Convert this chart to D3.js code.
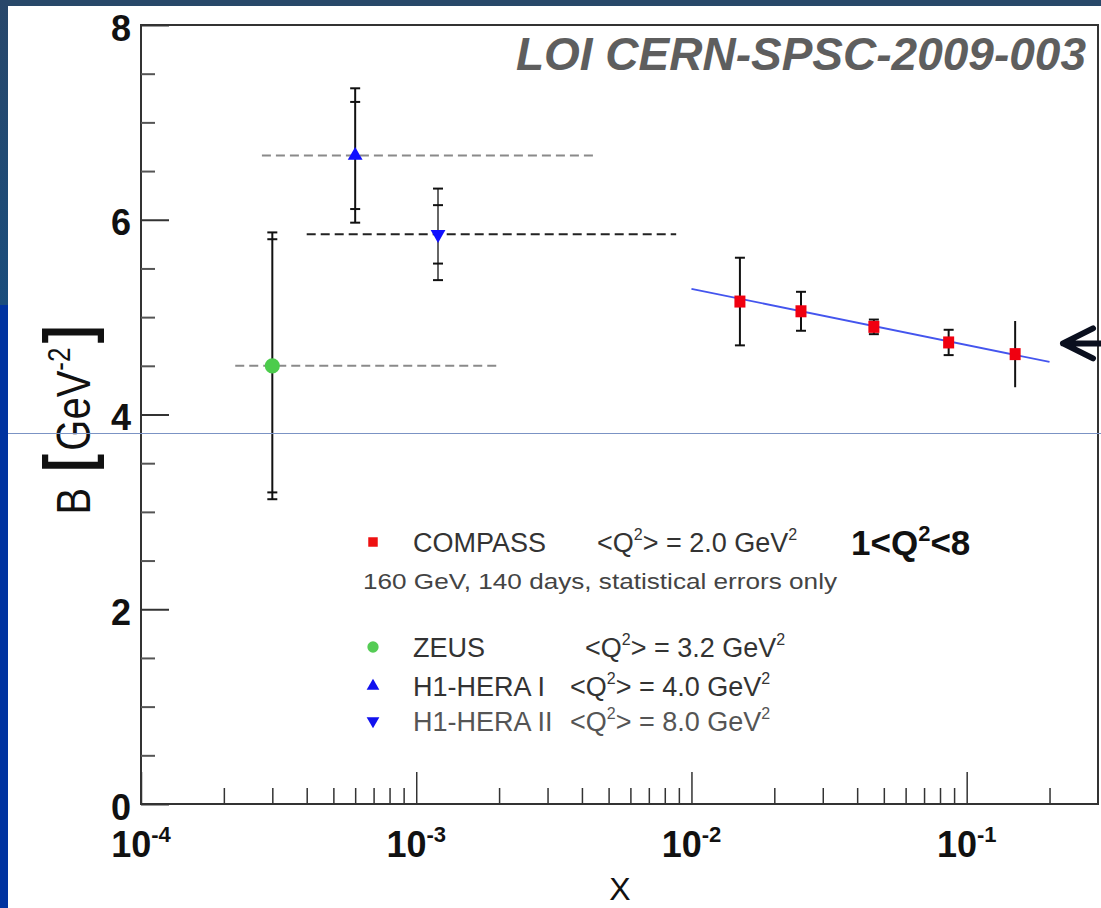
<!DOCTYPE html>
<html>
<head>
<meta charset="utf-8">
<script src="https://cdn.jsdelivr.net/npm/d3@7"></script>
<style>
body { margin: 0; background: #fff; }
text { font-family: "Liberation Sans", Arial, sans-serif; }
</style>
</head>
<body>
<script>
// COMPASS projection (statistical errors only)
var compassX = [0.015, 0.025, 0.046, 0.086, 0.15];
var compassB = [5.16, 5.06, 4.90, 4.74, 4.62];
var compassErr = [0.45, 0.20, 0.075, 0.13, 0.34];

// HERA results
var heraNames = ["ZEUS", "H1-HERA I", "H1-HERA II"];
var heraX = [3.0e-4, 6.0e-4, 1.2e-3];
var heraB = [4.50, 6.66, 5.85];
var heraErrStat = [1.30, 0.55, 0.30];
var heraErrTot = [1.37, 0.69, 0.47];
var heraXlo = [2.2e-4, 2.75e-4, 4.0e-4];
var heraXhi = [2.0e-3, 4.45e-3, 8.8e-3];

// fit line through compass points
var fitX = [0.01, 0.2];
var fitB = [5.29, 4.54];

var legendNames = ["COMPASS", "ZEUS", "H1-HERA I", "H1-HERA II"];
var legendQ2 = ["2.0", "3.2", "4.0", "8.0"];

var yMajor = [0, 2, 4, 6, 8];
var xDecades = [1e-4, 1e-3, 1e-2, 1e-1];
var xExponents = ["-4", "-3", "-2", "-1"];

var W = 1101, H = 908;
var svg = d3.select("body").append("svg")
  .attr("width", W)
  .attr("height", H);

// slide background
var grad = svg.append("defs").append("linearGradient")
  .attr("id", "leftgrad").attr("x1", 0).attr("y1", 0).attr("x2", 0).attr("y2", 1);
grad.append("stop").attr("offset", "0%").attr("stop-color", "#28476a");
grad.append("stop").attr("offset", "100%").attr("stop-color", "#1a4d7c");

svg.append("rect").attr("width", W).attr("height", H).attr("fill", "#fff");
svg.append("rect").attr("x", 0).attr("y", 0).attr("width", W).attr("height", 6).attr("fill", "#284869");
svg.append("rect").attr("x", 0).attr("y", 0).attr("width", 8).attr("height", 305).attr("fill", "url(#leftgrad)");
svg.append("rect").attr("x", 0).attr("y", 305).attr("width", 8).attr("height", H - 305).attr("fill", "#0033a0");

var plotL = 141, plotR = 1098, plotT = 25, plotB = 804;

var x = d3.scaleLog().domain([1e-4, 0.3]).range([plotL, plotR]);
var y = d3.scaleLinear().domain([0, 8]).range([plotB, plotT]);

// frame
svg.append("rect")
  .attr("x", plotL).attr("y", plotT)
  .attr("width", plotR - plotL).attr("height", plotB - plotT)
  .attr("fill", "none").attr("stroke", "#333").attr("stroke-width", 2);

// y axis, ticks point inwards (minor and major in separate groups)
var yMinor = d3.range(0, 8.01, 0.5).filter(function(v){ return yMajor.indexOf(v) < 0; });
var gyMin = svg.append("g").attr("transform", "translate(" + plotL + ",0)")
  .call(d3.axisLeft(y).tickValues(yMinor).tickSize(-14).tickSizeOuter(0).tickFormat(""));
var gy = svg.append("g").attr("transform", "translate(" + plotL + ",0)")
  .call(d3.axisLeft(y).tickValues(yMajor).tickSize(-28).tickSizeOuter(0).tickPadding(10).tickFormat(d3.format("d")));
svg.selectAll(".domain").remove();
gyMin.selectAll("line").attr("stroke", "#555").attr("stroke-width", 2);
gy.selectAll("line").attr("stroke", "#333").attr("stroke-width", 2);
gy.selectAll("text")
  .attr("font-family", "Liberation Sans, Arial, sans-serif")
  .attr("font-size", 36).attr("font-weight", "bold").attr("fill", "#111")
  .attr("dy", "0.42em");

// x axis (log)
var xMinor = [];
xDecades.forEach(function(d){
  for (var k = 2; k <= 9; k++) { if (d * k <= 0.3) xMinor.push(d * k); }
});
var gxMin = svg.append("g").attr("transform", "translate(0," + plotB + ")")
  .call(d3.axisBottom(x).tickValues(xMinor).tickSize(-16).tickSizeOuter(0).tickFormat(""));
var gx = svg.append("g").attr("transform", "translate(0," + plotB + ")")
  .call(d3.axisBottom(x).tickValues(xDecades).tickSize(-32).tickSizeOuter(0).tickFormat(""));
svg.selectAll(".domain").remove();
gxMin.selectAll("line").attr("stroke", "#333").attr("stroke-width", 1.5);
gx.selectAll("line").attr("stroke", "#333").attr("stroke-width", 1.5);

var xl = gx.append("g").selectAll("text").data(xDecades).enter().append("text")
  .attr("x", function(d){ return x(d); })
  .attr("y", 53)
  .attr("text-anchor", "middle")
  .attr("font-size", 36).attr("font-weight", "bold").attr("fill", "#111");
xl.append("tspan").text("10");
xl.append("tspan").attr("dy", -15).attr("font-size", 22).text(function(d, i){ return xExponents[i]; });

// axis titles
svg.append("text")
  .attr("x", 620).attr("y", 900)
  .attr("text-anchor", "middle")
  .attr("font-size", 32).attr("fill", "#111")
  .text("X");

var yt = svg.append("text")
  .attr("transform", "translate(90,420) scale(1.22,1) rotate(-90)")
  .attr("text-anchor", "middle")
  .attr("font-size", 40).attr("fill", "#111");
yt.append("tspan").text("B ");
yt.append("tspan").attr("font-size", 54).attr("font-weight", "bold").attr("dx", 5).text("[");
yt.append("tspan").attr("dx", 3).text("GeV");
yt.append("tspan").attr("font-size", 26).attr("dy", -16).text("-2");
yt.append("tspan").attr("font-size", 54).attr("font-weight", "bold").attr("dy", 16).attr("dx", 4).text("]");

// title
svg.append("text")
  .attr("x", 1086).attr("y", 70)
  .attr("text-anchor", "end")
  .attr("font-size", 46).attr("font-weight", "bold").attr("font-style", "italic")
  .attr("fill", "#5e5e5e")
  .text("LOI CERN-SPSC-2009-003");

// HERA horizontal x-range bands (dashed)
var hera = heraX.map(function(d, i){
  return {x: d, b: heraB[i], s: heraErrStat[i], t: heraErrTot[i], lo: heraXlo[i], hi: heraXhi[i], i: i};
});
svg.append("g").selectAll("line").data(hera).enter().append("line")
  .attr("x1", function(d){ return x(d.lo); })
  .attr("x2", function(d){ return x(d.hi); })
  .attr("y1", function(d){ return y(d.b); })
  .attr("y2", function(d){ return y(d.b); })
  .attr("stroke", function(d){ return d.i == 2 ? "#222" : "#8a8a8a"; })
  .attr("stroke-width", 2)
  .attr("stroke-dasharray", "9,5");

// HERA error bars: total + stat caps
var heb = svg.append("g").selectAll("g").data(hera).enter().append("g");
heb.append("line")
  .attr("x1", function(d){ return x(d.x); }).attr("x2", function(d){ return x(d.x); })
  .attr("y1", function(d){ return y(d.b + d.t); }).attr("y2", function(d){ return y(d.b - d.t); })
  .attr("stroke", function(d){ return d.i == 2 ? "#666" : "#111"; }).attr("stroke-width", 2);
[["t", 1], ["t", -1], ["s", 1], ["s", -1]].forEach(function(c){
  heb.append("line")
    .attr("x1", function(d){ return x(d.x) - 5; }).attr("x2", function(d){ return x(d.x) + 5; })
    .attr("y1", function(d){ return y(d.b + c[1] * d[c[0]]); })
    .attr("y2", function(d){ return y(d.b + c[1] * d[c[0]]); })
    .attr("stroke", "#111").attr("stroke-width", 2);
});

var heraColor = ["#4ccc4c", "#1010ff", "#1010ff"];
var heraSym = [
  d3.symbol().type(d3.symbolCircle).size(180)(),
  d3.symbol().type(d3.symbolTriangle).size(95)(),
  d3.symbol().type(d3.symbolTriangle).size(95)()
];
svg.append("g").selectAll("path").data(hera).enter().append("path")
  .attr("d", function(d){ return heraSym[d.i]; })
  .attr("transform", function(d){
    return "translate(" + x(d.x) + "," + y(d.b) + ")" + (d.i == 2 ? " rotate(180)" : "");
  })
  .attr("fill", function(d){ return heraColor[d.i]; });

// fit line
var fitData = fitX.map(function(d, i){ return [d, fitB[i]]; });
svg.append("path")
  .datum(fitData)
  .attr("d", d3.line().x(function(d){ return x(d[0]); }).y(function(d){ return y(d[1]); }))
  .attr("stroke", "#4455ee").attr("stroke-width", 1.8).attr("fill", "none");

// COMPASS points
var comp = compassX.map(function(d, i){ return {x: d, b: compassB[i], e: compassErr[i], i: i}; });
var cg = svg.append("g").selectAll("g").data(comp).enter().append("g");
cg.append("line")
  .attr("x1", function(d){ return x(d.x); }).attr("x2", function(d){ return x(d.x); })
  .attr("y1", function(d){ return y(d.b + d.e); }).attr("y2", function(d){ return y(d.b - d.e); })
  .attr("stroke", "#111").attr("stroke-width", 2);
[1, -1].forEach(function(s){
  cg.filter(function(d){ return d.i < 4; }).append("line")
    .attr("x1", function(d){ return x(d.x) - 5; }).attr("x2", function(d){ return x(d.x) + 5; })
    .attr("y1", function(d){ return y(d.b + s * d.e); }).attr("y2", function(d){ return y(d.b + s * d.e); })
    .attr("stroke", "#111").attr("stroke-width", 2);
});
cg.append("rect")
  .attr("x", function(d){ return x(d.x) - 5.5; })
  .attr("y", function(d){ return y(d.b) - 6; })
  .attr("width", 11).attr("height", 12)
  .attr("fill", "#f00010");

// legend
var rowY = [552, 657, 696, 731];
var q2X = [597, 585, 570, 570];
var legCol = ["#ee1111", "#55cc55", "#1111ee", "#1111ee"];
var legSym = [
  d3.symbol().type(d3.symbolSquare).size(90)(),
  d3.symbol().type(d3.symbolCircle).size(100)(),
  d3.symbol().type(d3.symbolTriangle).size(70)(),
  d3.symbol().type(d3.symbolTriangle).size(70)()
];
var leg = svg.append("g").selectAll("g").data(legendNames).enter().append("g");
leg.append("path")
  .attr("d", function(d, i){ return legSym[i]; })
  .attr("transform", function(d, i){ return "translate(373," + (rowY[i] - 10) + ")" + (i == 3 ? " rotate(180)" : ""); })
  .attr("fill", function(d, i){ return legCol[i]; });
leg.append("text")
  .attr("x", 413).attr("y", function(d, i){ return rowY[i]; })
  .attr("font-size", 27).attr("fill", function(d, i){ return i == 3 ? "#555" : "#333"; })
  .text(function(d){ return d; });
var q2 = leg.append("text")
  .attr("x", function(d, i){ return q2X[i]; }).attr("y", function(d, i){ return rowY[i]; })
  .attr("font-size", 27).attr("fill", function(d, i){ return i == 3 ? "#555" : "#333"; });
q2.append("tspan").text("<Q");
q2.append("tspan").attr("font-size", 16).attr("dy", -12).text("2");
q2.append("tspan").attr("dy", 12).text(function(d, i){ return "> = " + legendQ2[i] + " GeV"; });
q2.append("tspan").attr("font-size", 16).attr("dy", -12).text("2");

svg.append("text")
  .attr("x", 363).attr("y", 589)
  .attr("font-size", 22).attr("fill", "#444")
  .attr("textLength", 474).attr("lengthAdjust", "spacingAndGlyphs")
  .text("160 GeV, 140 days, statistical errors only");

var qr = svg.append("text")
  .attr("x", 851).attr("y", 555)
  .attr("font-size", 35).attr("font-weight", "bold").attr("fill", "#111");
qr.append("tspan").text("1<Q");
qr.append("tspan").attr("font-size", 22).attr("dy", -14).text("2");
qr.append("tspan").attr("dy", 14).text("<8");

// arrow on the right
var ay = y(4.73);
svg.append("path")
  .attr("d", "M1110," + ay + "L1063," + ay + "M1093," + (ay - 15) + "L1063," + ay + "L1093," + (ay + 15))
  .attr("stroke", "#0a0f1e").attr("stroke-width", 6).attr("fill", "none")
  .attr("stroke-linecap", "round").attr("stroke-linejoin", "round");

// thin slide guide line
svg.append("line")
  .attr("x1", 8).attr("x2", W).attr("y1", 433.5).attr("y2", 433.5)
  .attr("stroke", "#7b93c4").attr("stroke-width", 1);
</script>
</body>
</html>
